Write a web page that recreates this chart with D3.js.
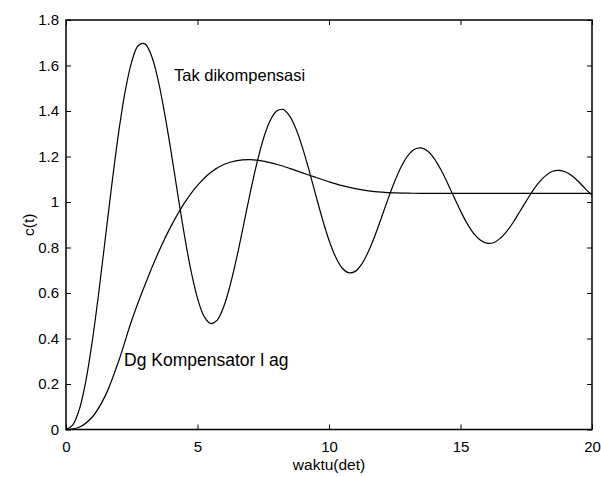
<!DOCTYPE html>
<html>
<head>
<meta charset="utf-8">
<script src="https://cdn.jsdelivr.net/npm/d3@7"></script>
<style>
  body { margin: 0; background: #fff; }
  text { font-family: "Liberation Sans", Arial, sans-serif; fill: #000; }
</style>
</head>
<body>
<div id="chart"></div>
<script>
/* DATA */
// time samples (det)
var tUncomp = d3.range(0, 20.001, 0.25);
var tLag = d3.range(0, 20.001, 0.5);

// c(t) without compensation, one value every 0.25 s
var cUncomp = [0, 0.019, 0.086, 0.211, 0.389, 0.606, 0.845, 1.084, 1.304, 1.486,
  1.617, 1.688, 1.695, 1.643, 1.537, 1.390, 1.218, 1.033, 0.856, 0.699,
  0.577, 0.497, 0.466, 0.481, 0.541, 0.638, 0.760, 0.898, 1.038, 1.167,
  1.276, 1.355, 1.399, 1.407, 1.379, 1.320, 1.236, 1.136, 1.029, 0.925,
  0.832, 0.759, 0.710, 0.689, 0.695, 0.728, 0.783, 0.853, 0.933, 1.015,
  1.091, 1.156, 1.204, 1.232, 1.238, 1.224, 1.191, 1.143, 1.085, 1.022,
  0.961, 0.906, 0.862, 0.833, 0.819, 0.821, 0.839, 0.870, 0.910, 0.957,
  1.004, 1.050, 1.088, 1.117, 1.135, 1.139, 1.132, 1.114, 1.088, 1.058,
  1.030];

// c(t) with lag compensator, one value every 0.5 s
var cLag = [0, 0.010, 0.055, 0.150, 0.300, 0.480, 0.635, 0.775, 0.895, 0.995,
  1.073, 1.130, 1.165, 1.182, 1.186, 1.180, 1.166, 1.148, 1.128, 1.108,
  1.089, 1.072, 1.059, 1.049, 1.043, 1.040, 1.039, 1.038, 1.038, 1.038,
  1.038, 1.038, 1.038, 1.038, 1.038, 1.038, 1.038, 1.038, 1.038, 1.038,
  1.038];

var xTicks = [0, 5, 10, 15, 20];
var yTicks = [0, 0.2, 0.4, 0.6, 0.8, 1, 1.2, 1.4, 1.6, 1.8];

/* SETUP */
var width = 601;
var height = 477;
var margin = {top: 20, right: 9, bottom: 47.5, left: 66};
var w = width - margin.left - margin.right;
var h = height - margin.top - margin.bottom;

var svg = d3.select("#chart")
  .append("svg")
  .attr("width", width)
  .attr("height", height);

var g = svg.append("g")
  .attr("transform", "translate(" + margin.left + "," + margin.top + ")");

var x = d3.scaleLinear().domain([0, 20]).range([0, w]);
var y = d3.scaleLinear().domain([0, 1.8]).range([h, 0]);

var fmt = function(d) { return String(d); };
var tick = 5;

// axes, ticks pointing inwards
var xBottom = g.append("g")
  .attr("transform", "translate(0," + h + ")")
  .call(d3.axisBottom(x).tickValues(xTicks).tickFormat(fmt).tickSizeInner(-tick).tickSizeOuter(0).tickPadding(12));
var xTop = g.append("g")
  .call(d3.axisTop(x).tickValues(xTicks).tickFormat("").tickSizeInner(-tick).tickSizeOuter(0));
var yLeft = g.append("g")
  .call(d3.axisLeft(y).tickValues(yTicks).tickFormat(fmt).tickSizeInner(-tick).tickSizeOuter(0).tickPadding(7));
var yRight = g.append("g")
  .attr("transform", "translate(" + w + ",0)")
  .call(d3.axisRight(y).tickValues(yTicks).tickFormat("").tickSizeInner(-tick).tickSizeOuter(0));

[xBottom, xTop, yLeft, yRight].forEach(function(a) {
  a.select(".domain").remove();
  a.selectAll("line").attr("stroke", "#000").attr("stroke-width", 1);
  a.selectAll("text")
    .style("font-family", "'Liberation Sans', Arial, sans-serif")
    .style("font-size", "15px")
    .attr("fill", "#000");
});

// box
g.append("rect")
  .attr("x", 0).attr("y", 0)
  .attr("width", w).attr("height", h)
  .attr("fill", "none")
  .attr("stroke", "#000")
  .attr("stroke-width", 1.5);

// curves
var line = d3.line()
  .x(function(d) { return x(d[0]); })
  .y(function(d) { return y(d[1]); })
  .curve(d3.curveCatmullRom);

g.append("path")
  .datum(d3.zip(tUncomp, cUncomp))
  .attr("d", line)
  .attr("fill", "none")
  .attr("stroke", "#000")
  .attr("stroke-width", 1.2);

g.append("path")
  .datum(d3.zip(tLag, cLag))
  .attr("d", line)
  .attr("fill", "none")
  .attr("stroke", "#000")
  .attr("stroke-width", 1.2);

// annotations
svg.append("text")
  .attr("x", 174).attr("y", 81)
  .style("font-size", "16.5px")
  .text("Tak dikompensasi");

svg.append("text")
  .attr("x", 124).attr("y", 366)
  .style("font-size", "17.5px")
  .text("Dg Kompensator l ag");

// axis labels
svg.append("text")
  .attr("x", margin.left + w / 2).attr("y", 470)
  .attr("text-anchor", "middle")
  .style("font-size", "15.5px")
  .text("waktu(det)");

svg.append("text")
  .attr("transform", "translate(34," + (margin.top + h / 2) + ") rotate(-90)")
  .attr("text-anchor", "middle")
  .style("font-size", "15.5px")
  .text("c(t)");
</script>
</body>
</html>
